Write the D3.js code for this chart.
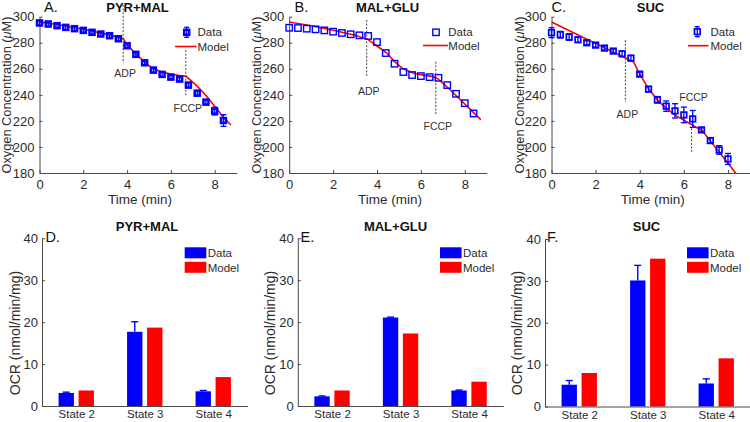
<!DOCTYPE html>
<html><head><meta charset="utf-8">
<script src="https://cdn.jsdelivr.net/npm/d3@7"></script>
<style>
body{margin:0;background:#fff}
svg{display:block}
text{font-family:Arial,"Liberation Sans",sans-serif}
</style>
</head><body>
<svg id="c" width="750" height="422"></svg>
<script>
// ---------- DATA ----------
const timeA = [0,0.4,0.8,1.2,1.6,2.0,2.4,2.8,3.2,3.6,4.0,4.4,4.8,5.2,5.6,6.0,6.4,6.8,7.2,7.6,8.0,8.4];
const o2A   = [295.2,294.4,293.1,291.8,290.8,289.5,288.0,286.7,285.4,283.1,277.7,271.1,264.6,259.0,255.7,253.6,252.1,247.5,241.3,234.4,227.5,220.3];
const errA  = [2.0,2.0,1.8,1.8,1.8,1.5,1.5,1.5,1.5,1.8,1.8,1.8,1.8,2.0,2.0,1.5,1.5,2.0,2.0,2.0,3.0,4.5];
const modelTimeA = [0,1.0,2.0,3.0,3.82,4.0,4.4,4.8,5.2,5.6,6.0,6.4,6.68,7.2,7.6,8.0,8.4,8.74];
const modelA     = [296.0,293.4,290.3,286.8,283.1,278.5,271.5,265.2,260.0,257.5,255.9,254.9,254.4,246.7,239.5,231.3,222.8,216.9];

const timeB = [0,0.4,0.8,1.2,1.6,2.0,2.4,2.8,3.2,3.6,4.0,4.4,4.8,5.2,5.6,6.0,6.4,6.8,7.2,7.6,8.0,8.4];
const o2B   = [291.5,291.3,290.8,290.3,289.5,288.5,287.5,286.5,285.7,285.2,280.5,272.1,263.9,257.5,255.2,254.4,253.6,253.1,247.5,240.8,233.6,225.7];
const modelTimeB = [0,1.0,2.0,3.0,3.58,4.0,4.43,4.8,5.19,5.65,6.0,6.48,6.78,7.2,7.6,8.0,8.4,8.73];
const modelB     = [295.9,293.0,289.6,285.8,282.6,277.5,272.3,265.5,260.0,256.7,255.5,254.2,252.3,246.0,239.5,233.0,226.4,221.0];

const timeC = [0,0.4,0.8,1.2,1.6,2.0,2.4,2.8,3.2,3.6,4.0,4.4,4.8,5.2,5.6,6.0,6.4,6.8,7.2,7.6,8.0];
const o2C   = [287.7,286.2,284.4,282.3,280.0,278.2,275.9,273.6,271.5,268.2,255.9,244.4,236.2,231.3,227.7,224.6,221.5,213.1,204.9,197.7,190.8];
const errC  = [3.8,2.5,2.5,2.0,1.5,1.5,1.5,1.5,2.0,2.0,1.5,2.0,2.5,4.0,5.5,6.0,6.5,1.5,2.0,3.3,4.2];
const modelTimeC = [0,3.73,3.95,4.4,4.86,5.24,5.62,6.38,6.83,8.32,8.5];
const modelC     = [295.9,265.2,257.5,244.6,234.9,229.2,224.2,216.9,212.6,180.5,176.6];

const o2Ticks   = [180,200,220,240,260,280,300];
const timeTicks = [0,2,4,6,8];

// additions: [time, line top, line bottom, label value]
const adpA  = [3.82, 309, 264.4, 253.6];
const fccpA = [6.68, 274.4, 238.5, 226.9];
const adpB  = [3.53, 297.5, 253.8, 239.8];
const fccpB = [6.68, 265.4, 224.4, 212.8];
const adpC  = [3.35, 282.0, 234.6, 222.6];
const fccpC = [6.35, 214.2, 196.2, 235.4];

const states = ["State 2","State 3","State 4"];
const ocrTicks = [0,10,20,30,40];
const ocrDataD  = [3.1,17.7,3.5];
const ocrErrD   = [0.2,2.4,0.2];
const ocrModelD = [3.7,18.7,6.9];
const ocrDataE  = [2.3,21.1,3.7];
const ocrErrE   = [0.1,0.1,0.1];
const ocrModelE = [3.7,17.3,5.8];
const ocrDataF  = [5.2,30.1,5.5];
const ocrErrF   = [1.0,3.6,1.1];
const ocrModelF = [8.0,35.3,11.5];

// ---------- DRAW ----------
const svg = d3.select("#c");
const TXT = "#2b2b2b", AX = "#4a4a4a", BLUE = "#0000ff", RED = "#ff0000";
const defs = svg.append("defs");

function styleAxis(g, fs){
  g.select(".domain").attr("stroke", AX).attr("stroke-width", 1);
  g.selectAll(".tick line").attr("stroke", AX);
  g.selectAll(".tick text").attr("fill", TXT).attr("font-size", fs).attr("font-family", "Arial, 'Liberation Sans', sans-serif");
}

function topPanel(c){
  const x = d3.scaleLinear().domain([0,9]).range([c.x0, c.x0 + 9*c.k]);
  const y = d3.scaleLinear().domain([180,300]).range([173, 16.7]);
  const g = svg.append("g");
  defs.append("clipPath").attr("id", "clip"+c.id).append("rect")
    .attr("x", x(0)).attr("y", y(300)).attr("width", x(9)-x(0)).attr("height", y(180)-y(300));

  const gx = g.append("g").attr("transform", `translate(0,${y(180)})`)
    .call(d3.axisBottom(x).tickValues(timeTicks).tickSizeInner(-3).tickSizeOuter(0).tickPadding(7));
  styleAxis(gx, 13);
  const gy = g.append("g").attr("transform", `translate(${x(0)},0)`)
    .call(d3.axisLeft(y).tickValues(o2Ticks).tickSizeInner(-3).tickSizeOuter(0).tickPadding(5));
  styleAxis(gy, 13);

  g.append("text").attr("x", (x(0)+x(9))/2 + 2).attr("y", 204).attr("text-anchor","middle")
    .attr("font-size", 13.5).attr("fill", TXT).text("Time (min)");
  const yl = g.append("text").attr("transform", `translate(${c.ylx},95) rotate(-90)`)
    .attr("text-anchor","middle").attr("font-size", 12.8).attr("fill", TXT);
  yl.append("tspan").text("Oxygen Concentration (");
  yl.append("tspan").attr("font-style","italic").text("μ");
  yl.append("tspan").text("M)");
  g.append("text").attr("x", c.titleX).attr("y", 11.5).attr("text-anchor","middle")
    .attr("font-size", 13).attr("font-weight","bold").attr("fill", "#111").text(c.title);
  g.append("text").attr("x", c.letterX).attr("y", 12).attr("font-size", 14.5)
    .attr("font-family","'Liberation Serif','Times New Roman',serif").attr("fill", "#111").text(c.letter);

  [[c.adp,"ADP"],[c.fccp,"FCCP"]].forEach(([a,lab])=>{
    g.append("line").attr("x1", x(a[0])).attr("x2", x(a[0])).attr("y1", y(a[1])).attr("y2", y(a[2]))
      .attr("stroke", "#444").attr("stroke-width", 1).attr("stroke-dasharray","2,1.6");
    g.append("text").attr("x", x(a[0]) + 2).attr("y", y(a[3])).attr("text-anchor","middle")
      .attr("font-size", 10.5).attr("font-family","'Open Sans', sans-serif").attr("fill", "#333").text(lab);
  });

  const line = d3.line().x(d=>x(d[0])).y(d=>y(d[1]));
  g.append("path").attr("clip-path", `url(#clip${c.id})`)
    .datum(c.mt.map((t,i)=>[t, c.mv[i]]))
    .attr("d", line).attr("fill","none").attr("stroke", RED).attr("stroke-width", 1.6);

  const pts = c.t.map((t,i)=>({t, v:c.v[i], e:c.e ? c.e[i] : 0}));
  if (c.e){
    const eb = g.append("g").attr("stroke", BLUE).attr("stroke-width", 1.3);
    pts.forEach(p=>{
      eb.append("line").attr("x1", x(p.t)).attr("x2", x(p.t)).attr("y1", y(p.v-p.e)).attr("y2", y(p.v+p.e));
      [p.v-p.e, p.v+p.e].forEach(vv=>eb.append("line").attr("x1", x(p.t)-3).attr("x2", x(p.t)+3).attr("y1", y(vv)).attr("y2", y(vv)));
    });
  }
  g.append("g").selectAll("rect").data(pts).join("rect")
    .attr("x", d=>x(d.t)-c.ms/2).attr("y", d=>y(d.v)-c.ms/2)
    .attr("width", c.ms).attr("height", c.ms)
    .attr("fill", "none").attr("stroke", BLUE).attr("stroke-width", c.msw);

  const L = c.leg;
  if (c.e){
    g.append("line").attr("x1", L.mx).attr("x2", L.mx).attr("y1", L.my-5).attr("y2", L.my+5).attr("stroke", BLUE).attr("stroke-width", 1.3);
    [L.my-5, L.my+5].forEach(yy=>g.append("line").attr("x1", L.mx-2.5).attr("x2", L.mx+2.5).attr("y1", yy).attr("y2", yy).attr("stroke", BLUE).attr("stroke-width",1.3));
  }
  g.append("rect").attr("x", L.mx-c.ms/2).attr("y", L.my-c.ms/2).attr("width", c.ms).attr("height", c.ms)
    .attr("fill","none").attr("stroke", BLUE).attr("stroke-width", c.msw);
  g.append("text").attr("x", L.tx).attr("y", L.my+4).attr("font-size", 11.5).attr("fill", TXT).text("Data");
  g.append("line").attr("x1", L.lx0).attr("x2", L.lx1).attr("y1", L.ly).attr("y2", L.ly).attr("stroke", RED).attr("stroke-width", 1.6);
  g.append("text").attr("x", L.tx).attr("y", L.ly+4).attr("font-size", 11.5).attr("fill", TXT).text("Model");
}

topPanel({id:"A", x0:39.5, k:21.9, ylx:10.8, title:"PYR+MAL", titleX:137.5, letter:"A.", letterX:44,
  t:timeA, v:o2A, e:errA, mt:modelTimeA, mv:modelA, adp:adpA, fccp:fccpA, ms:5, msw:2.5,
  leg:{mx:186.7, my:32.3, tx:197.5, lx0:175, lx1:196.5, ly:46.5}});
topPanel({id:"B", x0:289.2, k:21.95, ylx:260.5, title:"MAL+GLU", titleX:387.5, letter:"B.", letterX:294.5,
  t:timeB, v:o2B, e:null, mt:modelTimeB, mv:modelB, adp:adpB, fccp:fccpB, ms:6.4, msw:1.4,
  leg:{mx:436, my:32.3, tx:448.3, lx0:423, lx1:448, ly:45.5}});
topPanel({id:"C", x0:551.5, k:22.06, ylx:523.5, title:"SUC", titleX:650.5, letter:"C.", letterX:551.5,
  t:timeC, v:o2C, e:errC, mt:modelTimeC, mv:modelC, adp:adpC, fccp:fccpC, ms:5.6, msw:1.7,
  leg:{mx:697.3, my:31.7, tx:710.5, lx0:688, lx1:708.5, ly:45.7}});

function barPanel(c){
  const x = d3.scaleLinear().domain([0.5,3.5]).range([c.x0, c.x1]);
  const y = d3.scaleLinear().domain([0,40]).range([c.yb, c.yt]);
  const g = svg.append("g");
  const off = 0.146, hw = 0.112;

  states.forEach((s,i)=>{
    const cx = i+1;
    g.append("rect").attr("x", x(cx-off-hw)).attr("width", x(cx-off+hw)-x(cx-off-hw))
      .attr("y", y(c.data[i])).attr("height", y(0)-y(c.data[i])).attr("fill", BLUE);
    g.append("rect").attr("x", x(cx+off-hw)).attr("width", x(cx+off+hw)-x(cx+off-hw))
      .attr("y", y(c.model[i])).attr("height", y(0)-y(c.model[i])).attr("fill", RED);
    const ex = x(cx-off), top = c.data[i]+c.err[i];
    g.append("line").attr("x1", ex).attr("x2", ex).attr("y1", y(c.data[i])).attr("y2", y(top)).attr("stroke", BLUE).attr("stroke-width", 1.4);
    g.append("line").attr("x1", ex-3.5).attr("x2", ex+3.5).attr("y1", y(top)).attr("y2", y(top)).attr("stroke", BLUE).attr("stroke-width", 1.4);
  });

  const gx = g.append("g").attr("transform", `translate(0,${y(0)})`)
    .call(d3.axisBottom(x).tickValues([1,2,3]).tickFormat((d,i)=>states[i]).tickSizeInner(0).tickSizeOuter(0).tickPadding(4));
  styleAxis(gx, 11.5);
  const gy = g.append("g").attr("transform", `translate(${x(0.5)},0)`)
    .call(d3.axisLeft(y).tickValues(ocrTicks).tickSizeInner(-3).tickSizeOuter(0).tickPadding(4));
  styleAxis(gy, 13);

  g.append("text").attr("transform", `translate(${c.ylx},333) rotate(-90)`).attr("text-anchor","middle")
    .attr("font-size", 14).attr("fill", TXT).text("OCR (nmol/min/mg)");
  g.append("text").attr("x", c.titleX).attr("y", 231).attr("text-anchor","middle")
    .attr("font-size", 13).attr("font-weight","bold").attr("fill","#111").text(c.title);
  g.append("text").attr("x", c.letterX).attr("y", 241.5).attr("font-size", 14.5)
    .attr("font-family","'Liberation Serif','Times New Roman',serif").attr("fill","#111").text(c.letter);

  g.append("rect").attr("x", c.lx).attr("y", 247.3).attr("width", 21.6).attr("height", 11).attr("fill", BLUE);
  g.append("rect").attr("x", c.lx).attr("y", 261.8).attr("width", 21.6).attr("height", 11).attr("fill", RED);
  g.append("text").attr("x", c.lx+23).attr("y", 257).attr("font-size", 11.5).attr("fill", TXT).text("Data");
  g.append("text").attr("x", c.lx+23).attr("y", 271.5).attr("font-size", 11.5).attr("fill", TXT).text("Model");
}

barPanel({x0:42, x1:247.5, yb:406, yt:238.3, ylx:20, title:"PYR+MAL", titleX:147, letter:"D.", letterX:45.5, lx:184.7,
  data:ocrDataD, err:ocrErrD, model:ocrModelD});
barPanel({x0:297.8, x1:503.3, yb:406, yt:238.3, ylx:274.5, title:"MAL+GLU", titleX:395.5, letter:"E.", letterX:300.5, lx:440,
  data:ocrDataE, err:ocrErrE, model:ocrModelE});
barPanel({x0:545, x1:750.5, yb:406.5, yt:239, ylx:521.5, title:"SUC", titleX:646.5, letter:"F.", letterX:547, lx:687,
  data:ocrDataF, err:ocrErrF, model:ocrModelF});
</script>
</body></html>
